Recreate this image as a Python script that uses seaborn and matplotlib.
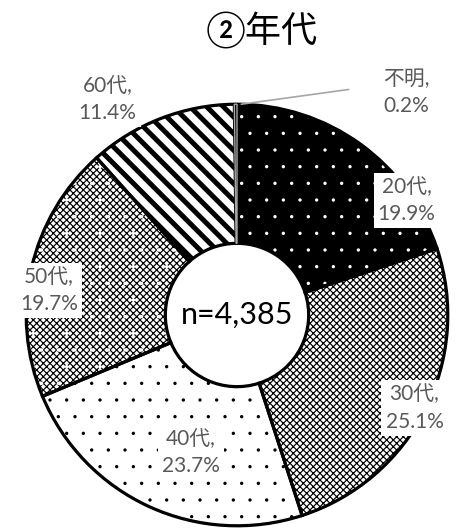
import matplotlib
matplotlib.use("Agg")
import matplotlib.pyplot as plt
import seaborn as sns

# data
ages = ['20代', '30代', '40代', '50代', '60代', '不明']
shares = [19.9, 25.1, 23.7, 19.7, 11.4, 0.2]
total_n = '4,385'
title = '②年代'

# label spots (data units, radius = 1)
label_xy = [(0.805, 0.544), (0.842, -0.442), (-0.219, -0.651),
            (-0.893, 0.116), (-0.614, 1.023), (0.805, 1.056)]
faces = ['black', 'white', 'white', 'white', 'white', 'white']
hatch_cols = ['white', 'black', 'black', 'black', 'black', '#a6a6a6']
hatches = ['.', 'xxxxx', '.', 'xxxxx', '\\\\', '']
hatch_lw = [0.0, 0.85, 0.0, 0.85, 3.6, 1.0]

sns.set_style('white')
plt.rcParams['font.family'] = ['Lato', 'Noto Sans CJK JP']

fig = plt.figure(figsize=(4.62, 5.31), dpi=100)
ax = fig.add_axes([22 / 462, 1 / 531, 430 / 462, 430 / 531])

width = 0.66
wedges, _ = ax.pie(shares, startangle=90, counterclock=False, radius=1,
                   wedgeprops=dict(width=width, linewidth=0))
for w, fc, hc, h, hl in zip(wedges, faces, hatch_cols, hatches, hatch_lw):
    w.set_facecolor(fc)
    w.set_edgecolor(hc)
    w.set_hatch(h)
    w.set_linewidth(0)
    w.set_hatch_linewidth(hl)

# white dots on top of the 50s checker
extra, _ = ax.pie(shares, startangle=90, counterclock=False, radius=1,
                  wedgeprops=dict(width=width, linewidth=0, facecolor='none'))
for i, w in enumerate(extra):
    if ages[i] == '50代':
        w.set_edgecolor('white')
        w.set_hatch('.')
        w.set_hatch_linewidth(0)
    else:
        w.set_visible(False)

# outlines
outl, _ = ax.pie(shares, startangle=90, counterclock=False, radius=1,
                 wedgeprops=dict(width=width, linewidth=2.3, facecolor='none',
                                 edgecolor='black'))
outl[-1].set_edgecolor('#a6a6a6')
outl[-1].set_linewidth(1)

for (x, y), lab, v in zip(label_xy, ages, shares):
    ax.text(x, y, f'{lab},\n{v}%', ha='center', va='center', fontsize=15,
            color='#595959', linespacing=1.45,
            bbox=dict(facecolor='white', edgecolor='none', pad=3))

# leader line for the tiny slice
ax.plot([0.53, 0.02], [1.07, 1.0], color='#a6a6a6', lw=1.2, clip_on=False)

ax.text(0, 0, f'n={total_n}', ha='center', va='center', fontsize=22,
        color='black')
ax.set_xlim(-1.02, 1.02)
ax.set_ylim(-1.02, 1.02)
ax.set_aspect('equal')
ax.axis('off')

fig.text(0.567, 0.945, title, ha='center', va='center', fontsize=26,
         color='black')

fig.savefig('out.png', dpi=100)
